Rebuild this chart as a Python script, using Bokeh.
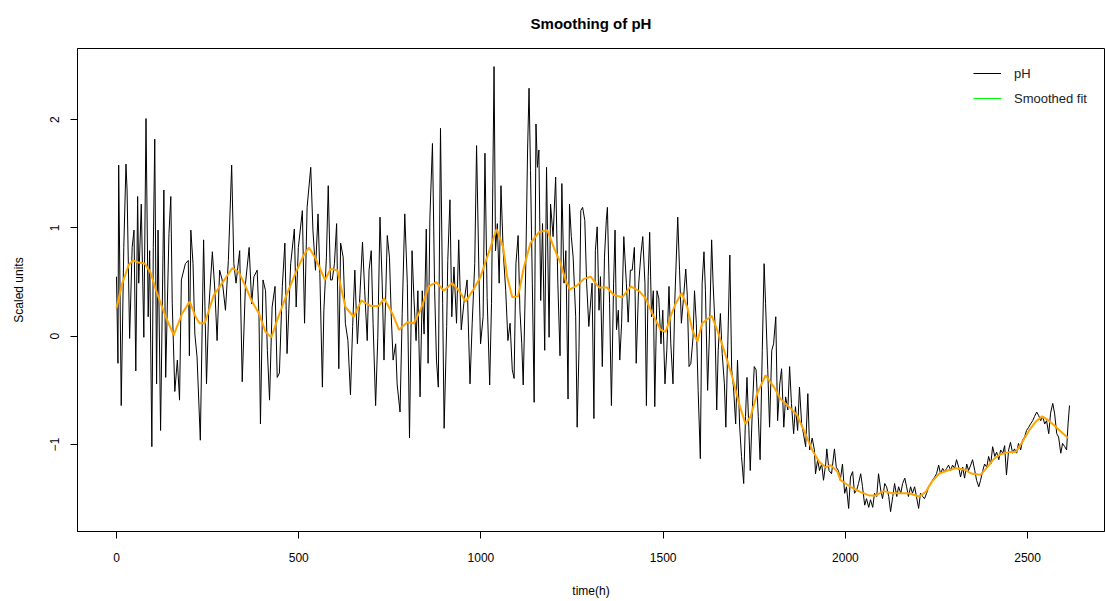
from bokeh.plotting import figure
from bokeh.models import Range1d, FixedTicker, Legend, LegendItem
from bokeh.embed import file_html
from bokeh.resources import INLINE

# ---- data ----
time_h = [
    0, 4, 6, 13, 20, 26, 29, 36, 43, 48, 53, 58, 61, 68, 75, 81, 87, 91, 97, 101,
    105, 110, 114, 121, 130, 135, 144, 149, 153, 160, 167, 173, 178, 189, 197, 200, 204, 210, 215, 221,
    230, 239, 247, 253, 263, 270, 276, 283, 290, 299, 307, 316, 322, 328, 338, 345, 354, 364, 371, 377,
    386, 391, 395, 402, 409, 414, 420, 427, 435, 441, 447, 455, 462, 468, 478, 488, 493, 499, 510, 516,
    523, 533, 539, 546, 553, 558, 565, 569, 576, 581, 587,
    592, 598, 604, 610, 615, 622, 628, 635, 642, 648, 654, 661, 668, 675, 681, 688, 693, 699, 704, 711,
    717, 723, 729, 734, 743, 749, 754, 759, 766, 770, 778, 784, 791, 798, 804, 811, 816, 822, 827, 833,
    839, 844, 850, 855, 860, 867, 873, 878, 883, 889, 895, 899, 906, 909, 915, 920, 926, 933, 939, 946,
    953, 962, 970, 976, 983, 988, 995, 999, 1006, 1011, 1017, 1024, 1029, 1036, 1040, 1045, 1050, 1055, 1061, 1068,
    1074, 1080, 1086, 1091, 1096, 1102, 1107, 1112, 1116, 1123, 1128, 1132, 1136, 1141, 1146, 1151, 1155, 1159, 1164, 1169,
    1175, 1180, 1187, 1191, 1198, 1205, 1211, 1217, 1222, 1228, 1233, 1239, 1243, 1248, 1253, 1260, 1264, 1269, 1274, 1279,
    1285, 1290, 1296,
    1305, 1310, 1314, 1319, 1324, 1328, 1333, 1339, 1344, 1347, 1353, 1358, 1364, 1368, 1372, 1377, 1381, 1386, 1392, 1399,
    1404, 1410, 1415, 1421, 1426, 1433, 1439, 1444, 1450, 1454, 1459, 1463, 1468, 1473, 1477, 1483, 1488, 1494, 1499, 1505,
    1510, 1516, 1521, 1527, 1532, 1540, 1545, 1550, 1556, 1562, 1566, 1571, 1576, 1582, 1586, 1591, 1596, 1602, 1607, 1612,
    1616, 1622, 1627, 1633, 1637, 1642, 1647, 1651, 1657, 1662, 1668, 1672, 1678, 1683, 1688, 1693, 1699, 1704, 1710, 1715,
    1721, 1726, 1730, 1735, 1739, 1745, 1750, 1755, 1761, 1766, 1772, 1777, 1781, 1787, 1792, 1798, 1803, 1809, 1814, 1820,
    1825, 1831, 1836, 1842, 1847, 1852, 1858, 1863, 1869, 1874, 1880, 1885, 1891, 1897, 1902, 1909, 1915, 1918, 1924, 1929,
    1935, 1940, 1946, 1949, 1955, 1962, 1970, 1975, 1981, 1986,
    1992, 1998, 2003, 2009, 2014, 2020, 2025, 2031, 2036, 2042, 2047, 2053, 2058, 2064, 2069, 2075, 2080, 2086, 2091, 2097,
    2102, 2108, 2113, 2119, 2124, 2130, 2135, 2141, 2146, 2152, 2157, 2163, 2168, 2173, 2179, 2184, 2190, 2195, 2201, 2206,
    2212, 2217, 2223, 2228, 2234, 2239, 2245, 2250, 2256, 2261, 2267, 2272, 2278, 2283, 2289, 2294, 2300, 2305, 2311, 2316,
    2322, 2327, 2333, 2338, 2344, 2349, 2355, 2360, 2366, 2371, 2377, 2382, 2388, 2393, 2399, 2404, 2410, 2415, 2421, 2426,
    2432, 2437, 2442, 2448, 2453, 2459, 2464, 2470, 2475, 2481, 2486, 2492, 2497, 2503, 2508, 2514, 2519, 2525, 2530, 2536,
    2541, 2547, 2552, 2558, 2563, 2569, 2574, 2580, 2585, 2591, 2596, 2602, 2607, 2611, 2615,
]

ph_scaled = [
    0.55, -0.25, 1.58, -0.64, 0.82, 1.59, 1.35, -0.02, 0.82, 0.98, -0.32, 1.29, 0.49, 1.22, -0.01, 2.01, 0.18, 0.79, -1.02, 0.82,
    1.82, -0.44, 0.98, -0.87, 1.35, -0.38, 0.95, 1.29, 0.30, -0.51, -0.22, -0.59, 0.52, 0.67, 0.70, -0.18, 0.98, 0.67, 0.02, -0.19,
    -0.96, 0.89, -0.44, 0.24, 0.78, 0.42, -0.04, 0.61, 0.52, 0.24, 0.70, 1.58, 0.67, 0.49, 0.79, -0.42, 0.49, 0.82, 0.30, 0.55,
    0.61, 0.18, -0.81, 0.52, 0.42, -0.13, -0.59, 0.27, 0.46, -0.38, -0.34, 0.46, 0.86, -0.16, 0.67, 0.99, 0.27, 0.82, 1.16, 0.12,
    1.19, 1.56, 0.98, 0.61, 1.13, 0.58, -0.47, 0.24, 0.73, 1.39, 0.52,
    0.52, 0.67, 1.04, -0.30, 0.86, 0.73, 0.12, -0.04, -0.54, 0.09, 0.61, -0.07, 0.39, 0.87, 0.42, -0.04, 0.61, 0.79, 0.12, -0.64,
    -0.01, 1.10, 0.49, -0.22, 0.93, 0.73, 0.18, -0.22, -0.07, -0.44, -0.70, 0.21, 1.13, 0.49, -0.94, 0.79, 0.36, -0.04, 0.42, -0.56,
    0.42, 0.02, 0.99, -0.25, 1.10, 1.78, 0.42, -0.22, -0.47, 1.92, 0.30, -0.85, 0.09, 0.70, 1.26, 0.18, 0.64, 0.12, 0.89, 0.06,
    0.30, 0.52, -0.44, 0.12, 0.67, 1.76, 0.49, -0.07, 0.18, 1.69, 0.36, -0.45, 0.30, 2.49, 0.79, 1.04, 0.49, 1.39, 0.79, 0.42,
    -0.04, 0.12, -0.31, -0.39, 0.67, 0.93, 0.24, -0.07, -0.45, 0.64, 1.72, 2.29, 1.53, 0.49, -0.61, 1.96, 1.56, 1.72, 0.33, 1.04,
    -0.13, 1.56, -0.01, 1.22, 0.92, 1.47, 0.49, -0.18, 1.41, 0.49, 0.79, -0.58, 1.22, 0.92, 0.73, 0.18, -0.84, -0.13, 1.16, 1.19,
    1.07, 0.49, 0.09,
    0.49, -0.76, 0.79, 1.01, 0.24, 0.55, -0.28, 0.73, 1.07, 1.19, 0.30, -0.64, 0.49, 0.98, 0.06, 0.24, -0.22, 0.12, 0.92, 0.49,
    0.13, 0.61, 0.61, 0.82, -0.25, 0.49, 0.76, 0.92, 0.49, -0.64, 0.55, 0.96, 0.18, 0.42, -0.65, 0.42, 0.35, -0.07, 0.24, -0.44,
    -0.13, 0.46, -0.07, -0.44, 0.33, 1.10, 0.61, 0.12, 0.36, 0.62, 0.39, -0.28, -0.25, -0.01, 0.42, 0.12, -0.50, -1.13, 0.49, 0.78,
    0.42, -0.50, 0.02, 0.89, 0.49, 0.12, -0.68, -0.13, 0.21, -0.16, -0.44, -0.84, 0.02, 0.75, -0.31, -0.47, -0.81, -0.22, -0.84, -1.11,
    -1.36, -0.74, -0.38, -0.84, -1.24, -0.65, -0.28, -0.31, -0.74, -1.14, -0.13, 0.67, 0.30, -0.31, -0.84, -0.13, -0.07, 0.18, -0.78, -0.44,
    -0.30, -0.84, -0.56, -0.68, -0.28, -0.62, -0.90, -0.65, -0.87, -0.47, -0.81, -0.90, -1.02, -0.53, -1.05, -0.94, -1.05, -1.27, -1.14, -1.24,
    -1.18, -1.33, -1.18, -1.04, -1.24, -1.27, -1.04, -1.21, -1.24, -1.33,
    -1.18, -1.45, -1.39, -1.59, -1.30, -1.25, -1.45, -1.42, -1.36, -1.27, -1.39, -1.56, -1.50, -1.58, -1.51, -1.58, -1.45, -1.48, -1.27, -1.42,
    -1.50, -1.36, -1.39, -1.48, -1.62, -1.48, -1.36, -1.48, -1.39, -1.45, -1.36, -1.31, -1.39, -1.48, -1.39, -1.45, -1.39, -1.48, -1.59, -1.45,
    -1.48, -1.50, -1.45, -1.39, -1.36, -1.33, -1.30, -1.27, -1.19, -1.27, -1.22, -1.25, -1.22, -1.19, -1.24, -1.19, -1.22, -1.14, -1.21, -1.30,
    -1.21, -1.31, -1.18, -1.24, -1.19, -1.14, -1.24, -1.33, -1.39, -1.33, -1.24, -1.18, -1.21, -1.11, -1.18, -1.02, -1.11, -1.07, -1.14, -1.05,
    -1.08, -1.01, -1.28, -1.05, -0.98, -1.08, -1.04, -1.08, -0.99, -1.05, -0.96, -0.93, -0.87, -0.84, -0.81, -0.78, -0.74, -0.70, -0.73, -0.78,
    -0.74, -0.81, -0.78, -0.90, -0.71, -0.62, -0.71, -0.90, -0.93, -1.08, -0.99, -1.02, -1.05, -0.81, -0.64,
]

fit_time_h = [
    0, 16, 34, 45, 61, 78, 93, 112, 135, 157, 180, 201, 217, 228, 242, 267, 290, 318, 336, 354,
    372, 391, 409, 425, 441, 464, 491, 514, 528, 546, 572, 587, 606, 628, 651, 672, 697, 720, 734, 757,
    775, 798, 816, 834, 857, 878, 898, 921, 940, 958, 981, 999, 1017, 1043, 1061, 1072, 1086, 1102, 1118, 1136,
    1159, 1182, 1200, 1219, 1232, 1244, 1264, 1283, 1301, 1324, 1346, 1365, 1388, 1411, 1433, 1452, 1470, 1493, 1507, 1520,
    1534, 1551, 1566, 1580, 1594, 1607, 1633, 1648, 1667, 1690, 1708, 1726, 1740, 1758, 1781, 1804, 1822, 1845, 1868, 1886,
    1909, 1928, 1946, 1960, 1978, 1987, 2014, 2042, 2065, 2083, 2106, 2129, 2152, 2174, 2202, 2220, 2238, 2257, 2280, 2302,
    2325, 2348, 2371, 2389, 2408, 2426, 2449, 2467, 2485, 2504, 2522, 2540, 2554, 2572, 2591, 2611,
]

fit_scaled = [
    0.26, 0.49, 0.66, 0.70, 0.68, 0.67, 0.59, 0.39, 0.18, 0.01, 0.21, 0.32, 0.18, 0.12, 0.12, 0.38, 0.49, 0.63, 0.59, 0.46,
    0.32, 0.21, 0.04, -0.01, 0.15, 0.36, 0.58, 0.75, 0.82, 0.72, 0.52, 0.62, 0.61, 0.27, 0.18, 0.33, 0.28, 0.28, 0.35, 0.21,
    0.06, 0.13, 0.12, 0.24, 0.46, 0.50, 0.42, 0.49, 0.42, 0.32, 0.44, 0.55, 0.73, 0.99, 0.82, 0.55, 0.36, 0.37, 0.64, 0.86,
    0.96, 0.98, 0.82, 0.67, 0.52, 0.43, 0.47, 0.53, 0.55, 0.45, 0.45, 0.38, 0.36, 0.46, 0.42, 0.35, 0.21, 0.06, 0.04, 0.18,
    0.30, 0.40, 0.27, 0.06, -0.05, 0.12, 0.19, 0.06, -0.13, -0.38, -0.62, -0.81, -0.74, -0.53, -0.36, -0.47, -0.58, -0.65, -0.73, -0.87,
    -1.05, -1.16, -1.21, -1.19, -1.25, -1.33, -1.39, -1.44, -1.47, -1.47, -1.43, -1.45, -1.45, -1.45, -1.48, -1.44, -1.34, -1.27, -1.24, -1.22,
    -1.23, -1.27, -1.28, -1.21, -1.13, -1.09, -1.07, -1.07, -0.98, -0.87, -0.79, -0.74, -0.77, -0.82, -0.88, -0.94,
]

x_ticks = [0, 500, 1000, 1500, 2000, 2500]
y_ticks = [-1, 0, 1, 2]

FONT = "Liberation Sans"

p = figure(
    width=1105, height=601,
    output_backend="svg", toolbar_location=None,
    x_range=Range1d(-107, 2711), y_range=Range1d(-1.803, 2.657),
    min_border_left=77, min_border_right=1, min_border_top=48, min_border_bottom=70,
    title="Smoothing of pH",
)
p.background_fill_color = "white"
p.border_fill_color = "white"
p.outline_line_color = "black"
p.outline_line_width = 1
p.xgrid.visible = False
p.ygrid.visible = False

p.title.align = "center"
p.title.vertical_align = "top"
p.title.text_font = FONT
p.title.text_font_size = "15px"
p.title.text_font_style = "bold"
p.title.text_color = "black"
p.title.standoff = 29

for ax in (p.xaxis[0], p.yaxis[0]):
    ax.axis_line_color = "black"
    ax.major_tick_line_color = "black"
    ax.major_tick_in = 0
    ax.major_tick_out = 7
    ax.minor_tick_line_color = None
    ax.major_label_text_font = FONT
    ax.major_label_text_font_size = "12px"
    ax.major_label_text_color = "black"
    ax.axis_label_text_font = FONT
    ax.axis_label_text_font_size = "12px"
    ax.axis_label_text_font_style = "normal"
    ax.axis_label_text_color = "black"

p.xaxis.ticker = FixedTicker(ticks=x_ticks)
p.yaxis.ticker = FixedTicker(ticks=y_ticks)
p.xaxis.axis_label = "time(h)"
p.yaxis.axis_label = "Scaled units"
p.xaxis.major_label_standoff = 14
p.xaxis.axis_label_standoff = 19
p.yaxis.major_label_standoff = 11
p.yaxis.axis_label_standoff = 22
p.yaxis.major_label_orientation = "vertical"

r_ph = p.line(time_h, ph_scaled, line_color="black", line_width=1)
r_fit = p.line(fit_time_h, fit_scaled, line_color="orange", line_width=2)
# legend key only: a one-point line draws nothing on the plot
r_key = p.line(x=fit_time_h[:1], y=fit_scaled[:1], line_color="#00FF00", line_width=1)

legend = Legend(
    items=[LegendItem(label="pH", renderers=[r_ph]),
           LegendItem(label="Smoothed fit", renderers=[r_key])],
    location=(896, 423),
    border_line_color=None,
    background_fill_alpha=0,
    margin=0, padding=0,
    glyph_width=28, glyph_height=20, label_height=20,
    spacing=5, label_standoff=13,
    label_text_font=FONT, label_text_font_size="13px", label_text_color="#222222",
)
p.add_layout(legend)

open("out.html", "w").write(file_html(p, INLINE))
